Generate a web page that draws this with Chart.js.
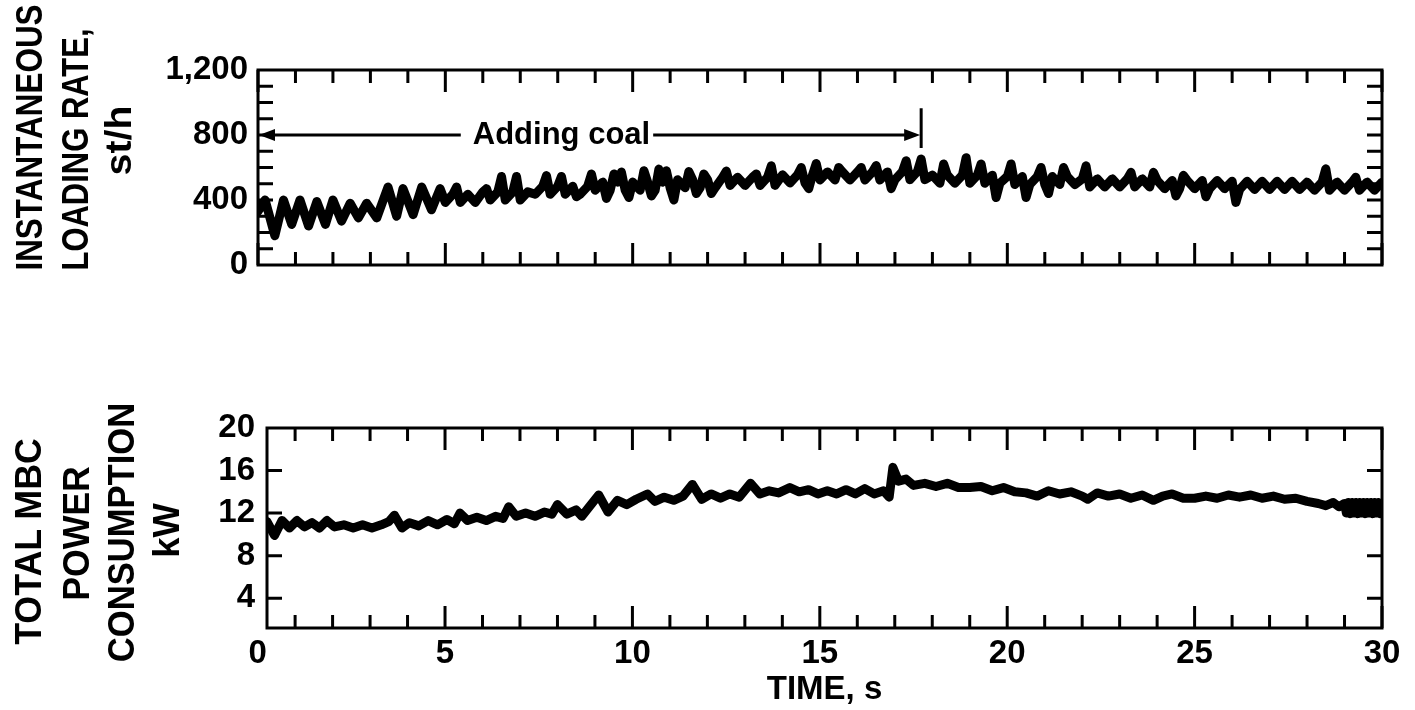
<!DOCTYPE html>
<html>
<head>
<meta charset="utf-8">
<script src="https://cdn.jsdelivr.net/npm/chart.js@4.4.1/dist/chart.umd.min.js"></script>
<style>
  html, body { margin: 0; padding: 0; background: #fff; }
  #wrap { position: relative; width: 1415px; height: 710px; overflow: hidden; }
  canvas { position: absolute; left: 0; }
  #topChart { top: 0; }
  #bottomChart { top: 300px; }
  .ytitle {
    position: absolute;
    font-family: 'Liberation Sans', Arial, sans-serif;
    font-weight: bold;
    font-size: 37px;
    line-height: 1;
    color: #000;
    white-space: nowrap;
  }
</style>
</head>
<body>
<div id="wrap">
  <canvas id="topChart" width="1415" height="300"></canvas>
  <canvas id="bottomChart" width="1415" height="410"></canvas>
  <!-- rotated axis titles: cx, cy = centre, len = length along the axis -->
  <div class="ytitle" data-cx="29" data-cy="137" data-len="266">INSTANTANEOUS</div>
  <div class="ytitle" data-cx="75" data-cy="149" data-len="242">LOADING RATE,</div>
  <div class="ytitle" data-cx="119" data-cy="140" data-len="70">st/h</div>
  <div class="ytitle" data-cx="29" data-cy="541" data-len="207">TOTAL MBC</div>
  <div class="ytitle" data-cx="77" data-cy="533" data-len="135">POWER</div>
  <div class="ytitle" data-cx="122" data-cy="532" data-len="260">CONSUMPTION</div>
  <div class="ytitle" data-cx="167" data-cy="530" data-len="55">kW</div>
</div>
<script>
// instantaneous loading rate, st/h (oscillations, band edges and spikes)
const loadTime = [
  0, 0.19, 0.45, 0.68, 0.9, 1.12, 1.35, 1.57, 1.8, 2.0, 2.23, 2.46, 2.68, 2.9, 3.17, 3.47, 3.7, 3.87, 4.14, 4.37, 4.63, 4.86,
  5.0, 5.2, 5.3, 5.4, 5.6, 5.8, 6.0, 6.1, 6.2, 6.4, 6.5, 6.6, 6.8, 6.9, 7.0, 7.2, 7.4, 7.6, 7.7, 7.8, 8.0, 8.1, 8.2, 8.4, 8.5, 8.6, 8.8, 8.9,
  9.0, 9.2, 9.3, 9.4, 9.5, 9.6, 9.7, 9.8, 9.9, 10.0, 10.2, 10.3, 10.4, 10.5, 10.6, 10.7, 10.8, 10.9,
  11.0, 11.1, 11.2, 11.4, 11.5, 11.6, 11.7, 11.8, 11.9, 12.0, 12.1, 12.2, 12.4, 12.5, 12.6, 12.8,
  13.0, 13.2, 13.3, 13.4, 13.6, 13.7, 13.8, 14.0, 14.2, 14.4, 14.5, 14.6, 14.7, 14.8, 14.9,
  15.0, 15.2, 15.4, 15.5, 15.6, 15.8, 16.0, 16.1, 16.2, 16.4, 16.5, 16.6, 16.8, 16.9,
  17.0, 17.2, 17.3, 17.4, 17.6, 17.7, 17.8, 18.0, 18.2, 18.3, 18.4, 18.6, 18.8, 18.9,
  19.0, 19.2, 19.3, 19.4, 19.6, 19.7, 19.8, 20.0, 20.1, 20.2, 20.4, 20.5, 20.6, 20.8, 20.9,
  21.0, 21.1, 21.2, 21.4, 21.5, 21.6, 21.8, 22.0, 22.1, 22.2, 22.4, 22.6, 22.8,
  23.0, 23.2, 23.3, 23.4, 23.6, 23.8, 23.9, 24.0, 24.2, 24.4, 24.5, 24.6, 24.7, 24.8,
  25.0, 25.2, 25.3, 25.4, 25.6, 25.8, 26.0, 26.1, 26.2, 26.4, 26.6, 26.8,
  27.0, 27.2, 27.4, 27.6, 27.8, 28.0, 28.2, 28.4, 28.5, 28.6, 28.8,
  29.0, 29.2, 29.3, 29.4, 29.6, 29.8, 30.0
];
const loadRate = [
  330, 400, 180, 400, 250, 400, 240, 390, 250, 400, 270, 380, 290, 380, 290, 480, 300, 470, 310, 480, 340, 470,
  385, 435, 480, 385, 435, 385, 450, 470, 400, 450, 545, 400, 450, 545, 400, 450, 435, 485, 550, 435, 485, 545, 435, 485, 420, 435, 485, 560,
  460, 510, 410, 460, 560, 510, 572, 460, 415, 510, 460, 580, 510, 425, 460, 590, 510, 580,
  475, 400, 525, 475, 575, 525, 440, 475, 560, 525, 440, 475, 540, 578, 490, 540,
  490, 540, 560, 490, 540, 610, 490, 555, 505, 555, 600, 505, 470, 555, 625,
  523, 573, 523, 600, 573, 523, 573, 600, 523, 573, 612, 523, 573, 470,
  525, 575, 642, 525, 575, 652, 525, 553, 503, 622, 553, 503, 553, 660,
  503, 553, 622, 503, 553, 415, 503, 545, 622, 495, 545, 415, 495, 545, 600,
  495, 440, 545, 495, 600, 545, 495, 530, 610, 480, 530, 480, 530,
  480, 530, 570, 480, 530, 480, 570, 520, 470, 520, 425, 470, 552, 520,
  470, 520, 420, 470, 520, 470, 515, 385, 465, 515, 465, 515,
  465, 515, 465, 515, 465, 510, 460, 510, 592, 460, 510,
  460, 510, 540, 460, 510, 460, 510
];

// total MBC power consumption, kW
const powerTime = [
  0, 0.05, 0.25, 0.45, 0.65, 0.85, 1.05, 1.25, 1.45, 1.65, 1.85, 2.05, 2.3, 2.55, 2.8, 3.05, 3.3, 3.5, 3.65, 3.85,
  4.05, 4.3, 4.55, 4.8, 5.05, 5.25, 5.4, 5.6, 5.85, 6.1, 6.35, 6.55, 6.7, 6.9, 7.15, 7.4, 7.65, 7.85, 8.0, 8.25,
  8.5, 8.65, 8.85, 9.1, 9.35, 9.6, 9.85, 10.1, 10.4, 10.6, 10.85, 11.1, 11.35, 11.6, 11.85, 12.1, 12.35, 12.6, 12.85, 13.15,
  13.4, 13.65, 13.9, 14.2, 14.45, 14.7, 14.95, 15.2, 15.45, 15.7, 15.95, 16.2, 16.45, 16.7, 16.85, 16.95, 17.1, 17.3, 17.5, 17.8,
  18.1, 18.4, 18.7, 19.0, 19.3, 19.6, 19.9, 20.2, 20.5, 20.8, 21.1, 21.4, 21.7, 22.0, 22.15, 22.4, 22.7, 23.0, 23.3, 23.6,
  23.9, 24.15, 24.4, 24.7, 25.0, 25.3, 25.6, 25.9, 26.2, 26.5, 26.8, 27.1, 27.4, 27.7, 28.0, 28.3, 28.5, 28.7, 28.85, 29.0,
  29.05, 29.1, 29.15, 29.2, 29.25, 29.3, 29.35, 29.4, 29.45, 29.5, 29.55, 29.6, 29.65, 29.7, 29.75, 29.8, 29.85, 29.9, 29.95, 30.0
];
const powerKw = [
  10.4, 11.5, 11.2, 9.9, 11.3, 10.6, 11.3, 10.7, 11.1, 10.6, 11.3, 10.7, 10.9, 10.6, 10.9, 10.6, 10.9, 11.2, 11.8, 10.6,
  11.1, 10.8, 11.3, 10.9, 11.4, 11.0, 12.0, 11.3, 11.6, 11.3, 11.7, 11.5, 12.6, 11.7, 12.0, 11.7, 12.1, 11.9, 12.8, 11.9,
  12.3, 11.7, 12.6, 13.7, 12.1, 13.2, 12.8, 13.3, 13.8, 13.1, 13.5, 13.2, 13.6, 14.7, 13.3, 13.8, 13.4, 13.8, 13.5, 14.8,
  13.8, 14.1, 13.9, 14.4, 14.0, 14.2, 13.8, 14.1, 13.8, 14.2, 13.8, 14.3, 13.8, 14.1, 13.5, 16.3, 15.0, 15.2, 14.6, 14.8,
  14.5, 14.8, 14.4, 14.4, 14.5, 14.1, 14.4, 14.0, 13.9, 13.6, 14.1, 13.8, 14.0, 13.6, 13.3, 13.9, 13.6, 13.8, 13.4, 13.7,
  13.2, 13.6, 13.8, 13.4, 13.4, 13.6, 13.4, 13.7, 13.5, 13.7, 13.4, 13.6, 13.3, 13.4, 13.1, 12.9, 12.7, 13.0, 12.6, 12.9,
  12.0, 13.0, 11.95, 13.0, 12.0, 13.0, 11.95, 13.0, 12.0, 13.0, 11.95, 13.0, 12.0, 13.0, 11.95, 13.0, 12.0, 13.0, 11.95, 12.9
];

const topYTicks = [0, 400, 800, 1200];
const topYLabels = ['0', '400', '800', '1,200'];
const topYMarks = [100, 200, 300, 400, 500, 600, 700, 800, 900, 1000, 1100];
const bottomYTicks = [4, 8, 12, 16, 20];
const bottomYMarks = [4, 8, 12, 16];
const timeTicks = [0, 5, 10, 15, 20, 25, 30];

// "Adding coal" marker
const coalLabel = 'Adding coal';
const coalStart = 0;
const coalEnd = 17.7;
const coalLevel = 800;
const coalTextAt = 8.1;
const coalBarLow = 720;
const coalBarHigh = 965;

const FONT = "'Liberation Sans', Arial, sans-serif";

// frame round the plot area with inward tick marks on all four sides
const framePlugin = {
  id: 'frame',
  afterDatasetsDraw(chart, args, opts) {
    const { ctx, chartArea: a, scales: { x, y } } = chart;
    ctx.save();
    ctx.strokeStyle = '#000';
    ctx.lineWidth = 3;
    ctx.strokeRect(a.left, a.top, a.right - a.left, a.bottom - a.top);
    ctx.beginPath();
    for (let t = Math.ceil(x.min); t <= x.max; t++) {
      const px = x.getPixelForValue(t);
      const len = t % 5 === 0 ? 22 : 13;
      ctx.moveTo(px, a.top);
      ctx.lineTo(px, a.top + len);
      ctx.moveTo(px, a.bottom);
      ctx.lineTo(px, a.bottom - len);
    }
    opts.yMarks.forEach(v => {
      const py = y.getPixelForValue(v);
      ctx.moveTo(a.left, py);
      ctx.lineTo(a.left + 15, py);
      ctx.moveTo(a.right, py);
      ctx.lineTo(a.right - 15, py);
    });
    ctx.stroke();
    ctx.restore();
  }
};

const coalPlugin = {
  id: 'coal',
  afterDatasetsDraw(chart) {
    const { ctx, scales: { x, y } } = chart;
    const yy = y.getPixelForValue(coalLevel);
    const x0 = x.getPixelForValue(coalStart);
    const x1 = x.getPixelForValue(coalEnd);
    const xt = x.getPixelForValue(coalTextAt);
    ctx.save();
    ctx.font = 'bold 31px ' + FONT;
    ctx.fillStyle = '#000';
    ctx.strokeStyle = '#000';
    ctx.textAlign = 'center';
    ctx.textBaseline = 'middle';
    const w = ctx.measureText(coalLabel).width;
    ctx.fillText(coalLabel, xt, yy);
    ctx.lineWidth = 3;
    ctx.beginPath();
    ctx.moveTo(x0 + 6, yy);
    ctx.lineTo(xt - w / 2 - 12, yy);
    ctx.moveTo(xt + w / 2 + 3, yy);
    ctx.lineTo(x1 - 6, yy);
    ctx.moveTo(x1, y.getPixelForValue(coalBarLow));
    ctx.lineTo(x1, y.getPixelForValue(coalBarHigh));
    ctx.stroke();
    ctx.beginPath();
    ctx.moveTo(x0 + 1, yy);
    ctx.lineTo(x0 + 17, yy - 6);
    ctx.lineTo(x0 + 17, yy + 6);
    ctx.closePath();
    ctx.moveTo(x1 - 1, yy);
    ctx.lineTo(x1 - 17, yy - 6);
    ctx.lineTo(x1 - 17, yy + 6);
    ctx.closePath();
    ctx.fill();
    ctx.restore();
  }
};

function traceDataset(times, values, width) {
  return {
    data: times.map((t, i) => ({ x: t, y: values[i] })),
    borderColor: '#000',
    borderWidth: width,
    pointRadius: 0,
    tension: 0,
    fill: false,
    borderJoinStyle: 'round',
    borderCapStyle: 'round'
  };
}

const tickFont = { family: FONT, size: 33, weight: 'bold' };

new Chart(document.getElementById('topChart'), {
  type: 'line',
  data: { datasets: [traceDataset(loadTime, loadRate, 9)] },
  options: {
    responsive: false,
    devicePixelRatio: 1,
    animation: false,
    layout: { padding: { top: 70, right: 33, left: 0, bottom: 0 } },
    plugins: { legend: { display: false }, tooltip: { enabled: false }, frame: { yMarks: topYMarks } },
    scales: {
      x: {
        type: 'linear', min: 0, max: 30,
        grid: { display: false, drawTicks: false }, border: { display: false },
        ticks: { display: false },
        afterFit: s => { s.height = 35; }
      },
      y: {
        min: 0, max: 1200,
        grid: { display: false, drawTicks: false }, border: { display: false },
        afterBuildTicks: s => { s.ticks = topYTicks.map(v => ({ value: v })); },
        ticks: { color: '#000', font: tickFont, padding: 10, callback: v => topYLabels[topYTicks.indexOf(v)] },
        afterFit: s => { s.width = 258; }
      }
    }
  },
  plugins: [framePlugin, coalPlugin]
});

new Chart(document.getElementById('bottomChart'), {
  type: 'line',
  data: { datasets: [traceDataset(powerTime, powerKw, 9)] },
  options: {
    responsive: false,
    devicePixelRatio: 1,
    animation: false,
    layout: { padding: { top: 128, right: 33, left: 0, bottom: 0 } },
    plugins: { legend: { display: false }, tooltip: { enabled: false }, frame: { yMarks: bottomYMarks } },
    scales: {
      x: {
        type: 'linear', min: 0.25, max: 30,
        grid: { display: false, drawTicks: false }, border: { display: false },
        afterBuildTicks: s => { s.ticks = timeTicks.map(v => ({ value: v })); },
        ticks: { color: '#000', font: tickFont, padding: 6, autoSkip: false, maxRotation: 0, callback: v => String(v) },
        title: { display: true, text: 'TIME, s', color: '#000', font: { family: FONT, size: 33, weight: 'bold' }, padding: { top: 0, bottom: 0 } },
        afterFit: s => { s.height = 82; }
      },
      y: {
        min: 1.2, max: 20,
        grid: { display: false, drawTicks: false }, border: { display: false },
        afterBuildTicks: s => { s.ticks = bottomYTicks.map(v => ({ value: v })); },
        ticks: { color: '#000', font: tickFont, padding: 12, callback: v => String(v) },
        afterFit: s => { s.width = 267; }
      }
    }
  },
  plugins: [framePlugin]
});

// place the rotated, multi-line axis titles
document.querySelectorAll('.ytitle').forEach(el => {
  const w = el.offsetWidth;
  const h = el.offsetHeight;
  const s = +el.dataset.len / w;
  el.style.left = (+el.dataset.cx - w / 2) + 'px';
  el.style.top = (+el.dataset.cy - h / 2) + 'px';
  el.style.transform = 'rotate(-90deg) scaleX(' + s.toFixed(3) + ')';
});
</script>
</body>
</html>
